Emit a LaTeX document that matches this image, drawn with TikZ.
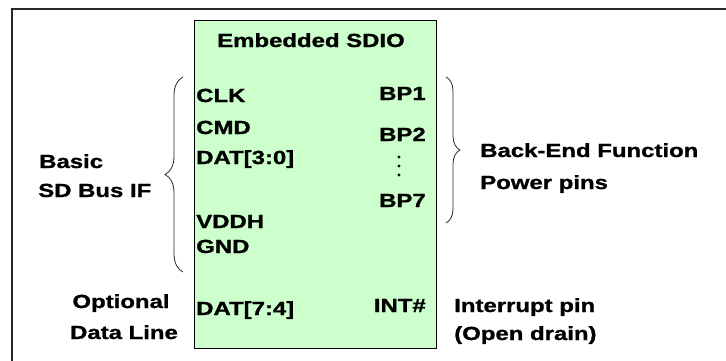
\documentclass[tikz,border=0pt]{standalone}
\usepackage{fontspec}
\setmainfont[BoldFeatures={FakeBold=1}]{Liberation Sans}
\usetikzlibrary{decorations.pathreplacing}
\definecolor{sdiogreen}{RGB}{204,255,204}
\definecolor{framegray}{RGB}{40,40,40}
\tikzset{
  pin/.style={inner sep=0pt, xscale=1.26, transform shape, font=\fontsize{19}{22}\selectfont\bfseries},
  curly/.style={decorate, decoration={brace, amplitude=#1}, line width=0.8pt, draw=framegray}
}
\begin{document}
\begin{tikzpicture}[x=1pt,y=-1pt]
    \clip (0,0) rectangle (726,360);

% Frame
    \coordinate (f0) at (12,380);
    \coordinate (f1) at (12,9);
    \coordinate (f2) at (740,9);
    \draw[line width=2.5pt, draw=framegray] (f0) -- (f1) -- (f2);

% Embedded SDIO
    \node[draw, fill=sdiogreen, line width=0.8pt, inner sep=0pt,
          minimum width=242pt, minimum height=328pt, anchor=north west] (box) at (194,20) {};
    \node[pin, anchor=base] (title) at (311,47) {Embedded SDIO};

    \node[pin, anchor=base west] (clk) at (196,102) {CLK};
    \node[pin, anchor=base west] (cmd) at (196,134) {CMD};
    \node[pin, anchor=base west] (dat30) at (196,164) {DAT[3:0]};
    \node[pin, anchor=base west] (vddh) at (196,228) {VDDH};
    \node[pin, anchor=base west] (gnd) at (196,253) {GND};
    \node[pin, anchor=base west] (dat74) at (196,315) {DAT[7:4]};

    \node[pin, anchor=base east] (bp1) at (426,100) {BP1};
    \node[pin, anchor=base east] (bp2) at (426,141) {BP2};
    \node[pin, anchor=base east] (bp7) at (426,207) {BP7};
    \node[pin, anchor=base east] (int) at (426,312) {INT\#};
    \foreach \y in {157,166,175}
        \fill (399,\y) circle (1.6pt);

% Left side
    \coordinate (l0) at (183,272);
    \coordinate (l1) at (183,77);
    \draw[curly=18pt] (l0) -- (l1);
    \node[pin, anchor=base west] (basic) at (39,168) {Basic};
    \node[pin, anchor=base west] (sdbus) at (38,197) {SD Bus IF};
    \node[pin, anchor=base] (optional) at (121,308) {Optional};
    \node[pin, anchor=base] (dataline) at (124,339) {Data Line};

% Right side
    \coordinate (r0) at (446,77);
    \coordinate (r1) at (446,223);
    \draw[curly=14pt] (r0) -- (r1);
    \node[pin, anchor=base west] (backend) at (480,157) {Back-End Function};
    \node[pin, anchor=base west] (power) at (480,189) {Power pins};
    \node[pin, anchor=base west] (interrupt) at (454,312) {Interrupt pin};
    \node[pin, anchor=base west] (opendrain) at (454,340) {(Open drain)};

\end{tikzpicture}
\end{document}
